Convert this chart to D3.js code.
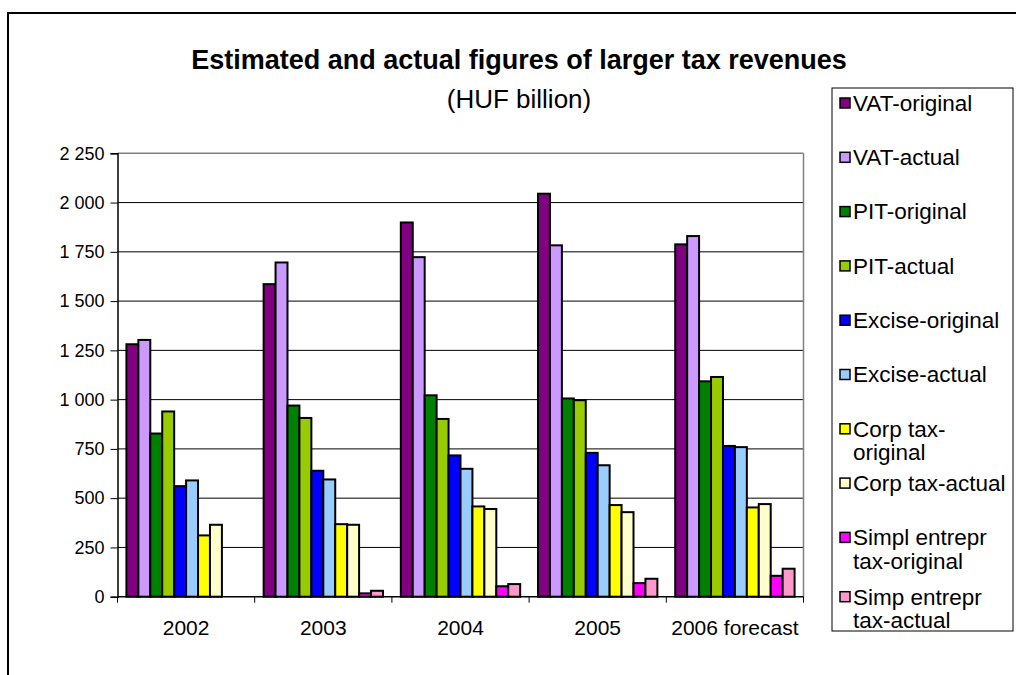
<!DOCTYPE html>
<html>
<head>
<meta charset="utf-8">
<script src="https://cdn.jsdelivr.net/npm/d3@7/dist/d3.min.js"></script>
<style>
  html, body { margin: 0; padding: 0; background: #fff; }
  svg { display: block; font-family: Arial, "Liberation Sans", sans-serif; }
</style>
</head>
<body>
<svg id="chart" width="1016" height="675"></svg>
<script>
// Years on the category axis
const years = ["2002", "2003", "2004", "2005", "2006 forecast"];

// Series names (legend order = bar order inside each year)
const seriesNames = [
  "VAT-original", "VAT-actual",
  "PIT-original", "PIT-actual",
  "Excise-original", "Excise-actual",
  "Corp tax-original", "Corp tax-actual",
  "Simpl entrepr tax-original", "Simp entrepr tax-actual"
];

// Legend text, wrapped the way it is shown
const legendLines = [
  ["VAT-original"], ["VAT-actual"],
  ["PIT-original"], ["PIT-actual"],
  ["Excise-original"], ["Excise-actual"],
  ["Corp tax-", "original"], ["Corp tax-actual"],
  ["Simpl entrepr", "tax-original"], ["Simp entrepr", "tax-actual"]
];

const seriesColors = [
  "#800080", "#CC99FF",
  "#008000", "#99CC00",
  "#0000FF", "#99CCFF",
  "#FFFF00", "#FFFFCC",
  "#FF00FF", "#FF99CC"
];

// HUF billion, one value per year (2002 .. 2006 forecast)
const vatOriginal    = [1281, 1586, 1899, 2045, 1788];
const vatActual      = [1303, 1696, 1723, 1783, 1830];
const pitOriginal    = [828, 970, 1022, 1006, 1093];
const pitActual      = [940, 907, 902, 997, 1115];
const exciseOriginal = [561, 639, 717, 730, 765];
const exciseActual   = [590, 595, 649, 667, 759];
const corpOriginal   = [311, 368, 458, 465, 453];
const corpActual     = [365, 365, 445, 429, 470];
const simplOriginal  = [null, 17, 53, 69, 106];
const simpActual     = [null, 30, 64, 91, 142];

const yTicks = [0, 250, 500, 750, 1000, 1250, 1500, 1750, 2000, 2250];

const seriesValues = [
  vatOriginal, vatActual, pitOriginal, pitActual,
  exciseOriginal, exciseActual, corpOriginal, corpActual,
  simplOriginal, simpActual
];

const svg = d3.select("#chart");

// Outer chart frame (runs off the right and bottom edges)
svg.append("rect")
  .attr("x", 8).attr("y", 13)
  .attr("width", 1040).attr("height", 700)
  .attr("fill", "none").attr("stroke", "#000").attr("stroke-width", 2);

// Titles
svg.append("text")
  .attr("x", 519).attr("y", 69)
  .attr("text-anchor", "middle")
  .attr("font-size", 27).attr("font-weight", "bold")
  .text("Estimated and actual figures of larger tax revenues");
svg.append("text")
  .attr("x", 519).attr("y", 108)
  .attr("text-anchor", "middle")
  .attr("font-size", 26)
  .text("(HUF billion)");

// Plot area
const plot = { left: 117.5, right: 803.5, top: 153.3, bottom: 596.7 };

const y = d3.scaleLinear().domain([0, 2250]).range([plot.bottom, plot.top]);
const x0 = d3.scaleBand().domain(years)
  .range([plot.left, plot.right])
  .paddingInner(0.13).paddingOuter(0.065);
const x1 = d3.scaleBand().domain(d3.range(seriesNames.length))
  .range([0, x0.bandwidth()]);

const g = svg.append("g");

// Horizontal gridlines
g.append("g").selectAll("line")
  .data(yTicks.filter(t => t > 0))
  .join("line")
  .attr("x1", plot.left).attr("x2", plot.right)
  .attr("y1", d => y(d)).attr("y2", d => y(d))
  .attr("stroke", d => d === 2250 ? "#808080" : "#000")
  .attr("stroke-width", d => d === 2250 ? 1.5 : 1);

// Right plot border
g.append("line")
  .attr("x1", plot.right).attr("x2", plot.right)
  .attr("y1", plot.top).attr("y2", plot.bottom)
  .attr("stroke", "#808080").attr("stroke-width", 1.5);

// Bars
const fmtLocale = d3.formatLocale({ decimal: ",", thousands: " ", grouping: [3], currency: ["", ""] });
const fmt = fmtLocale.format(",");

const barData = [];
years.forEach((yr, i) => {
  seriesValues.forEach((vals, s) => {
    if (vals[i] != null) barData.push({ year: yr, s, v: vals[i] });
  });
});

g.append("g").selectAll("rect")
  .data(barData)
  .join("rect")
  .attr("x", d => x0(d.year) + x1(d.s))
  .attr("y", d => y(d.v))
  .attr("width", x1.bandwidth())
  .attr("height", d => y(0) - y(d.v))
  .attr("fill", d => seriesColors[d.s])
  .attr("stroke", "#000")
  .attr("stroke-width", 2);

// Y axis
const yAxis = d3.axisLeft(y).tickValues(yTicks).tickFormat(fmt).tickSize(7).tickPadding(6);
const yg = svg.append("g").attr("transform", `translate(${plot.left},0)`).call(yAxis);
yg.select(".domain").attr("stroke", "#000").attr("stroke-width", 1.5);
yg.selectAll(".tick line").attr("stroke", "#000");
yg.selectAll(".tick text").attr("font-size", 18).attr("fill", "#000")
  .attr("font-family", "Arial, 'Liberation Sans', sans-serif");

// X axis: ticks sit between the year groups
const xg = svg.append("g").attr("transform", `translate(0,${plot.bottom})`);
xg.append("line")
  .attr("x1", plot.left).attr("x2", plot.right)
  .attr("stroke", "#000").attr("stroke-width", 1.5);
const step = x0.step();
xg.selectAll("line.tk")
  .data(d3.range(years.length + 1))
  .join("line").attr("class", "tk")
  .attr("x1", i => plot.left + i * step).attr("x2", i => plot.left + i * step)
  .attr("y1", 0).attr("y2", 6)
  .attr("stroke", "#000");
xg.selectAll("text")
  .data(years)
  .join("text")
  .attr("x", d => x0(d) + x0.bandwidth() / 2)
  .attr("y", 38)
  .attr("text-anchor", "middle")
  .attr("font-size", 21)
  .text(d => d);

// Legend
const legend = { left: 832, top: 88, right: 1013, bottom: 631 };
svg.append("rect")
  .attr("x", legend.left).attr("y", legend.top)
  .attr("width", legend.right - legend.left)
  .attr("height", legend.bottom - legend.top)
  .attr("fill", "#fff").attr("stroke", "#000").attr("stroke-width", 1);

const rowStep = 54.3;
const lineH = 23.5;
const items = svg.append("g").selectAll("g")
  .data(seriesNames)
  .join("g")
  .attr("transform", (d, i) => `translate(${legend.left},${103 + i * rowStep + (i === 9 ? 5 : 0)})`);

items.append("rect")
  .attr("x", 8).attr("y", -5)
  .attr("width", 10).attr("height", 10)
  .attr("fill", (d, i) => seriesColors[i])
  .attr("stroke", "#000").attr("stroke-width", 1.5);

items.append("text")
  .attr("x", 21)
  .attr("font-size", 22.5)
  .selectAll("tspan")
  .data((d, i) => legendLines[i])
  .join("tspan")
  .attr("x", 21)
  .attr("y", (d, j) => j * lineH)
  .attr("dy", "0.35em")
  .text(d => d);
</script>
</body>
</html>
